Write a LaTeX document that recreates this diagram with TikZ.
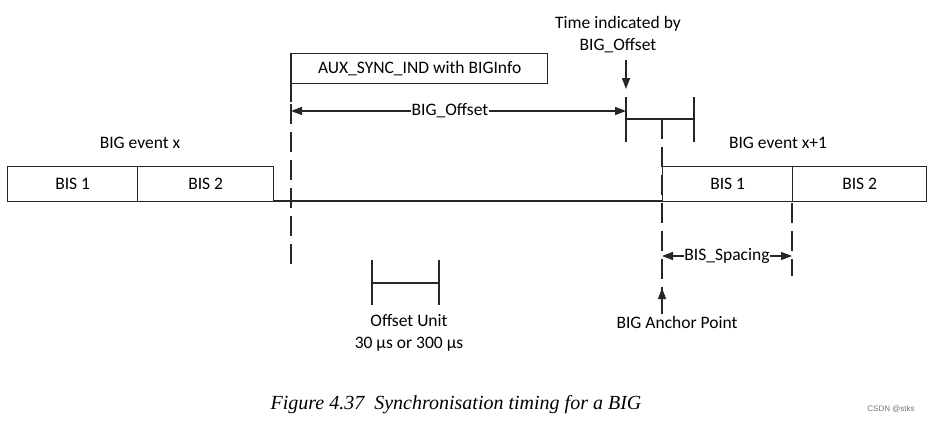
\documentclass[tikz,border=0pt]{standalone}
\usepackage{fontspec}
\setmainfont{Carlito}
\newfontfamily\capfont{Liberation Serif}
\newfontfamily\smallfont{Liberation Sans}
\usetikzlibrary{arrows.meta}
\begin{document}
\begin{tikzpicture}[x=1pt,y=-1pt,
  ln/.style={line width=1.3pt,black!85},
  dsh/.style={line width=1.3pt,black!85,dash pattern=on 20pt off 8pt},
  arr/.style={line width=1.3pt,black!85,-{Triangle[length=11pt,width=8pt]}},
  lbl/.style={inner sep=1pt,font=\fontsize{17.5}{22}\selectfont},
  bis/.style={draw,line width=1.3pt,black!85,minimum height=35pt,inner sep=0pt,text=black,font=\fontsize{17.5}{21}\selectfont}]
\useasboundingbox (0,0) rectangle (933,423);
% left boxes
\node[bis,minimum width=130pt,anchor=north west] (l1) at (7,166) {BIS 1};
\node[bis,minimum width=136pt,anchor=north west] (l2) at (137,166) {BIS 2};
% right boxes
\node[bis,minimum width=130pt,anchor=north west] (r1) at (662,166) {BIS 1};
\node[bis,minimum width=134pt,anchor=north west] (r2) at (792,166) {BIS 2};
% timeline
\coordinate (t0) at (273,201);
\coordinate (t1) at (662,201);
\draw[ln] (t0) -- (t1);
% labels
\node[lbl] (bx) at (140,143) {BIG event x};
\node[lbl] (bx1) at (778,143) {BIG event x+1};
% AUX box
\node[draw,ln,text=black,minimum width=256pt,minimum height=30pt,anchor=north west,inner sep=0pt,font=\fontsize{17.5}{21}\selectfont] (aux) at (291,53) {AUX\_SYNC\_IND with BIGInfo};
\coordinate (a0) at (291,53);
\coordinate (a1) at (291,102);
\coordinate (a2) at (291,270);
\draw[ln] (a0) -- (a1);
\draw[dsh] (291,104) -- (a2);
% BIG_Offset arrow
\coordinate (o0) at (291,111);
\coordinate (o1) at (626,111);
\node[lbl,fill=white,inner sep=0.5pt] (bo) at (450,111) {BIG\_Offset};
\draw[arr] (bo.west) -- (o0);
\draw[arr] (bo.east) -- (o1);
% tick group
\coordinate (g0) at (626,97);
\coordinate (g0b) at (626,142);
\coordinate (g1) at (694,97);
\coordinate (g1b) at (694,142);
\coordinate (gm) at (662,119);
\draw[ln] (g0) -- (g0b);
\draw[ln] (g1) -- (g1b);
\draw[ln] (626,119) -- (694,119);
\draw[dsh] (gm) -- (662,292);
% time indicated
\node[lbl,align=center] (ti) at (618,35) {Time indicated by\\BIG\_Offset};
\coordinate (tia) at (626,60);
\draw[arr] (tia) -- (626,89);
% BIS spacing
\draw[dsh] (792,203) -- (792,276);
\node[lbl,inner sep=0.5pt] (bs) at (727,256) {BIS\_Spacing};
\coordinate (s0) at (662,256);
\coordinate (s1) at (792,256);
\draw[arr] (bs.west) -- (s0);
\draw[arr] (bs.east) -- (s1);
% anchor point
\node[lbl] (ap) at (677,322) {BIG Anchor Point};
\draw[arr] (662,314) -- (662,288);
% offset unit
\coordinate (u0) at (372,260);
\coordinate (u1) at (439,260);
\draw[ln] (u0) -- (372,305);
\draw[ln] (u1) -- (439,305);
\draw[ln] (372,283) -- (439,283);
\node[lbl,align=center] (ou) at (409,333) {Offset Unit\\30 µs or 300 µs};
% caption
\node[font=\capfont\itshape\fontsize{20}{24}\selectfont] (cap) at (456,405) {Figure 4.37\ \ Synchronisation timing for a BIG};
\node[font=\smallfont\fontsize{8}{10}\selectfont,text=black!55] (wm) at (891,409) {CSDN @stks};
\end{tikzpicture}
\end{document}
